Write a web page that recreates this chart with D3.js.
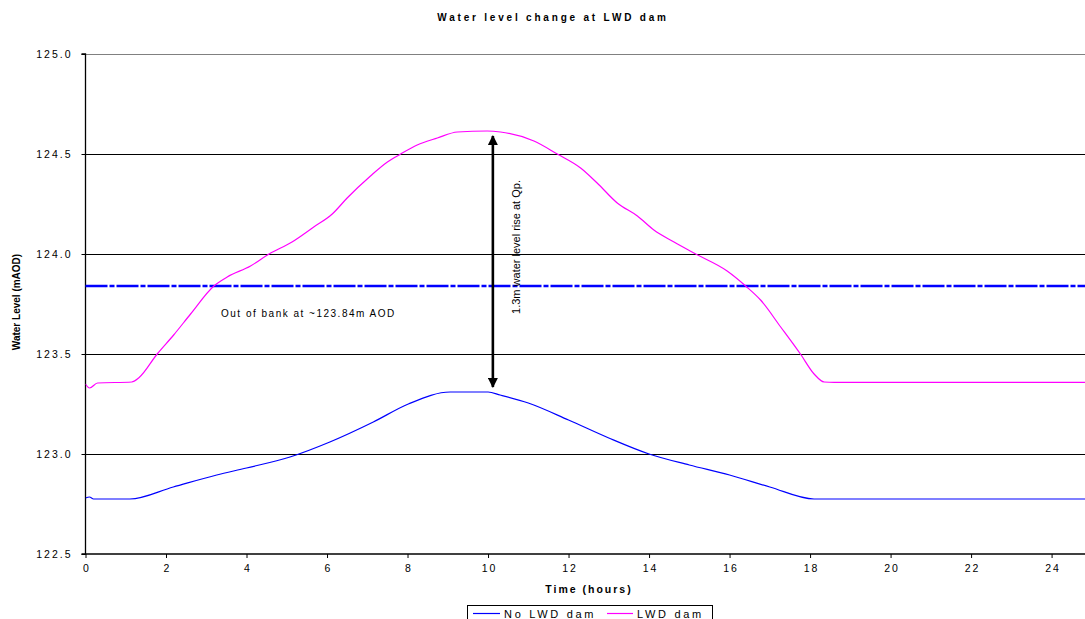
<!DOCTYPE html>
<html>
<head>
<meta charset="utf-8">
<script src="https://cdn.jsdelivr.net/npm/d3@7"></script>
<style>
  html, body { margin: 0; padding: 0; background: #fff; }
  svg { display: block; font-family: Arial, "Liberation Sans", Helvetica, sans-serif; }
</style>
</head>
<body>
<svg id="chart" width="1085" height="619"></svg>
<script>
// ---- Data ----
const noDamTime  = [0, 0.1, 0.2, 1.1, 2.18, 3.26, 4.0, 5.08, 6.07, 7.15, 8.02, 9.06, 10.0, 10.3, 11.0, 12.0, 13.0, 14.0, 15.0, 16.0, 17.0, 18.1, 24.85];
const noDamLevel = [122.78, 122.785, 122.775, 122.775, 122.835, 122.895, 122.93, 122.985, 123.06, 123.16, 123.25, 123.31, 123.31, 123.295, 123.255, 123.17, 123.08, 123.0, 122.945, 122.895, 122.835, 122.775, 122.775];

const damTime  = [0, 0.1, 0.3, 1.15, 1.32, 1.78, 2.19, 2.61, 3.19, 3.52, 4.1, 4.56, 5.13, 5.67, 6.13, 6.5, 7.08, 7.5, 7.83, 8.24, 8.74, 9.24, 9.98, 10.31, 11.14, 11.72, 12.3, 12.71, 13.21, 13.71, 14.12, 14.62, 15.16, 15.94, 16.4, 16.77, 17.27, 17.76, 18.1, 18.35, 18.6, 24.85];
const damLevel = [123.35, 123.33, 123.355, 123.36, 123.38, 123.50, 123.595, 123.70, 123.84, 123.885, 123.94, 124.0, 124.06, 124.135, 124.20, 124.28, 124.39, 124.46, 124.50, 124.545, 124.58, 124.61, 124.615, 124.61, 124.565, 124.5, 124.43, 124.355, 124.255, 124.19, 124.12, 124.06, 124.0, 123.915, 123.84, 123.77, 123.635, 123.50, 123.40, 123.36, 123.358, 123.358];

const seriesNames = ["No LWD dam", "LWD dam"];
const seriesColors = ["#0000ff", "#ff00ff"];
const xTicks = [0, 2, 4, 6, 8, 10, 12, 14, 16, 18, 20, 22, 24];
const yTicks = [122.5, 123.0, 123.5, 124.0, 124.5, 125.0];
const outOfBank = 123.84;
const arrowTime = 10.12;
const arrowFrom = 123.335;
const arrowTo = 124.59;

const titleText = "Water level change at LWD dam";
const xTitle = "Time (hours)";
const yTitle = "Water Level (mAOD)";
const bankLabel = "Out of bank at ~123.84m AOD";
const riseLabel = "1.3m water level rise at Qp.";

// ---- Layout ----
const svg = d3.select("#chart");
const pLeft = 85.5, pRight = 1085, pTop = 54, pBottom = 554;
const x = d3.scaleLinear().domain([0, 24.83]).range([pLeft, pRight]);
const y = d3.scaleLinear().domain([122.5, 125.0]).range([pBottom, pTop]);

// gridlines
svg.append("g").selectAll("line").data(yTicks.filter(v => v > 122.5)).join("line")
  .attr("x1", pLeft).attr("x2", pRight)
  .attr("y1", d => Math.round(y(d)) + 0.5).attr("y2", d => Math.round(y(d)) + 0.5)
  .attr("stroke", d => d === 125.0 ? "#808080" : "#000").attr("stroke-width", 1);

// axes
const yAxis = d3.axisLeft(y).tickValues(yTicks).tickFormat(d3.format(".1f")).tickSize(4).tickPadding(9);
const gy = svg.append("g").attr("transform", `translate(${pLeft},0)`).call(yAxis);
gy.select(".domain").attr("stroke", "#000").attr("stroke-width", 1.3).attr("d", `M-4,${pTop}H0V${pBottom}H-4`);
gy.selectAll(".tick line").attr("stroke", "#000");
gy.selectAll(".tick text").attr("font-size", 10.5).attr("fill", "#000").attr("letter-spacing", 2).attr("font-family", "Arial, 'Liberation Sans', sans-serif");

const xAxis = d3.axisBottom(x).tickValues(xTicks).tickFormat(d3.format("d")).tickSize(4).tickPadding(7);
const gx = svg.append("g").attr("transform", `translate(0,${pBottom})`).call(xAxis);
gx.select(".domain").attr("stroke", "#000").attr("stroke-width", 1.3).attr("d", `M${pLeft},0H${pRight}`);
gx.selectAll(".tick line").attr("stroke", "#000");
gx.selectAll(".tick text").attr("font-size", 10.5).attr("fill", "#000").attr("letter-spacing", 2).attr("dx", 1).attr("font-family", "Arial, 'Liberation Sans', sans-serif");

// out-of-bank dashed line
svg.append("line")
  .attr("x1", pLeft).attr("x2", pRight)
  .attr("y1", y(outOfBank)).attr("y2", y(outOfBank))
  .attr("stroke", "#0000ff").attr("stroke-width", 2.4)
  .attr("stroke-dasharray", "22,2,5,2");

// series lines
const line = d3.line().x(d => x(d[0])).y(d => y(d[1])).curve(d3.curveMonotoneX);
const series = [
  noDamTime.map((t, i) => [t, noDamLevel[i]]),
  damTime.map((t, i) => [t, damLevel[i]])
];
const defs = svg.append("defs");
defs.append("clipPath").attr("id", "clip")
  .append("rect").attr("x", pLeft).attr("y", pTop - 5).attr("width", pRight - pLeft).attr("height", pBottom - pTop + 5);
svg.append("g").attr("clip-path", "url(#clip)").selectAll("path").data(series).join("path")
  .attr("d", line).attr("fill", "none")
  .attr("stroke", (d, i) => seriesColors[i]).attr("stroke-width", 1.2);

// arrow
defs.append("marker").attr("id", "ah").attr("viewBox", "0 0 10 10")
  .attr("refX", 9).attr("refY", 5).attr("markerWidth", 4).attr("markerHeight", 4)
  .attr("markerUnits", "strokeWidth").attr("orient", "auto-start-reverse")
  .append("path").attr("d", "M0,0L10,5L0,10Z").attr("fill", "#000");
svg.append("line")
  .attr("x1", x(arrowTime)).attr("x2", x(arrowTime))
  .attr("y1", y(arrowFrom)).attr("y2", y(arrowTo))
  .attr("stroke", "#000").attr("stroke-width", 2.6)
  .attr("marker-start", "url(#ah)").attr("marker-end", "url(#ah)");

// annotations
svg.append("text").attr("x", 221).attr("y", 317)
  .attr("font-size", 10).attr("letter-spacing", 1.5).attr("fill", "#000")
  .text(bankLabel);
svg.append("text")
  .attr("transform", `translate(520,247) rotate(-90)`)
  .attr("text-anchor", "middle").attr("font-size", 11).attr("fill", "#000")
  .text(riseLabel);

// titles
svg.append("text").attr("x", 553).attr("y", 21).attr("text-anchor", "middle")
  .attr("font-size", 10).attr("font-weight", "bold").attr("letter-spacing", 2.8)
  .text(titleText);
svg.append("text").attr("x", 589).attr("y", 593).attr("text-anchor", "middle")
  .attr("font-size", 10.5).attr("font-weight", "bold").attr("letter-spacing", 2)
  .text(xTitle);
svg.append("text").attr("transform", "translate(20,302) rotate(-90)").attr("text-anchor", "middle")
  .attr("font-size", 10).attr("font-weight", "bold")
  .text(yTitle);

// legend
const lg = svg.append("g");
lg.append("rect").attr("x", 467.5).attr("y", 605.5).attr("width", 245).attr("height", 20)
  .attr("fill", "#fff").attr("stroke", "#000").attr("stroke-width", 1);
const legendX = [[473, 500, 504], [607, 633, 637]];
seriesNames.forEach((name, i) => {
  lg.append("line").attr("x1", legendX[i][0]).attr("x2", legendX[i][1])
    .attr("y1", 613.5).attr("y2", 613.5).attr("stroke", seriesColors[i]).attr("stroke-width", 1.2);
  lg.append("text").attr("x", legendX[i][2]).attr("y", 617.5)
    .attr("font-size", 11).attr("letter-spacing", 2.7).text(name);
});
</script>
</body>
</html>
